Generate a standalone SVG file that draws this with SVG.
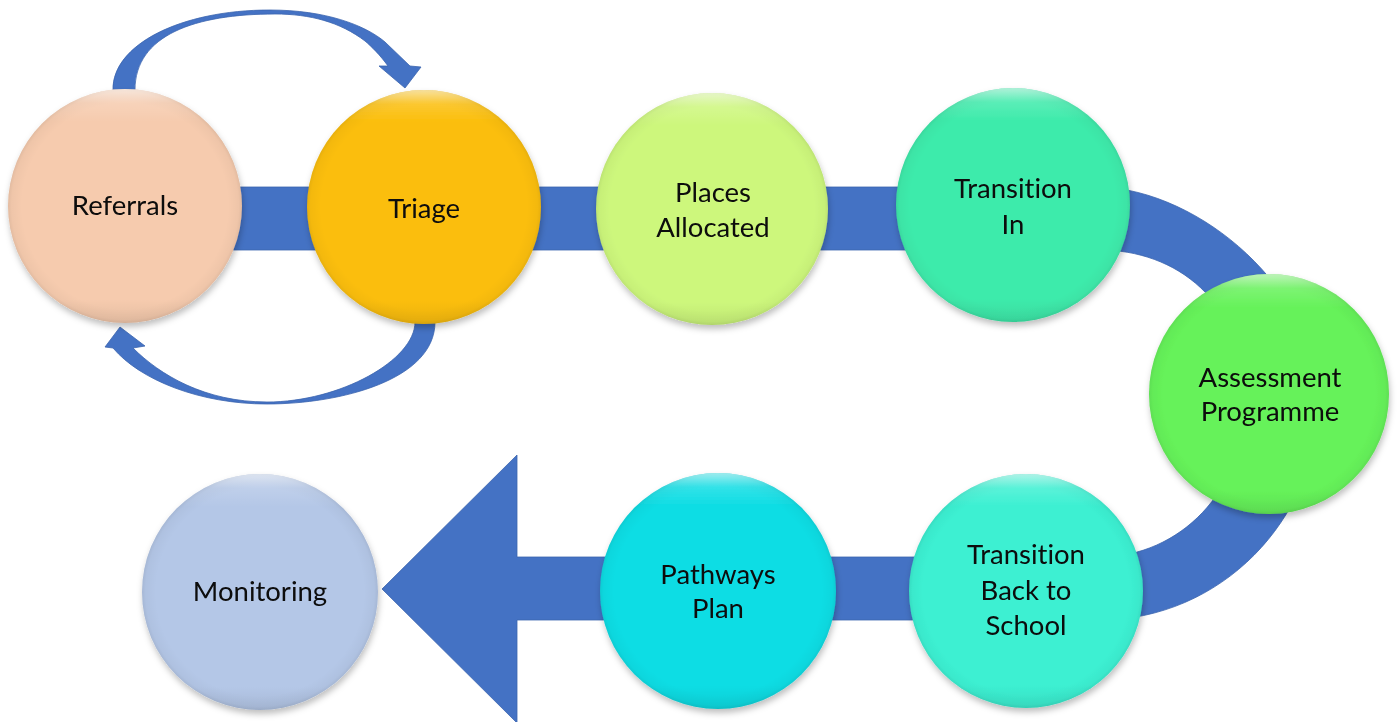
<svg xmlns="http://www.w3.org/2000/svg" width="1397" height="722" viewBox="0 0 1397 722">
  <defs>
    <style>
      .blue { fill: #4472C4; stroke: #3B64AE; stroke-width: 0.8; }
      .node { filter: url(#shadow); }
      .label { font-family: Lato, "Liberation Sans", sans-serif; font-size: 27.5px; fill: #0a0a0a; text-anchor: middle; font-variant-ligatures: none; font-feature-settings: "liga" 0; }
    </style>
    <filter id="shadow" x="-20%" y="-20%" width="140%" height="145%">
      <feDropShadow dx="1" dy="4" stdDeviation="3" flood-color="#000" flood-opacity="0.25"/>
    </filter>
    <radialGradient id="rim" cx="0.5" cy="0.5" r="0.5">
      <stop offset="0.88" stop-color="#000" stop-opacity="0"/>
      <stop offset="0.97" stop-color="#000" stop-opacity="0.03"/>
      <stop offset="1" stop-color="#000" stop-opacity="0.08"/>
    </radialGradient>
    <linearGradient id="bevel" x1="0" y1="0" x2="0" y2="1">
      <stop offset="0" stop-color="#fff" stop-opacity="0.6"/>
      <stop offset="0.06" stop-color="#fff" stop-opacity="0.15"/>
      <stop offset="0.14" stop-color="#fff" stop-opacity="0"/>
      <stop offset="0.9" stop-color="#000" stop-opacity="0"/>
      <stop offset="1" stop-color="#000" stop-opacity="0.07"/>
    </linearGradient>
  </defs>
  <rect width="1397" height="722" fill="#fff"/>

  <g id="connectors">
    <path class="blue" d="M200,187 L1100,187 C1200,190 1318,290 1318,402 C1318,520 1220,620 1100,620 L517,620 L517,723 L382,589 L517,455 L517,557 L1100,557 C1180,557 1245,490 1245,402 C1245,300 1175,250 1100,250 L200,250 Z"/>
    <path class="blue" d="M113,90 C112,45 180,10 270,10 C325,10 365,25 385,42 L410,66 L421,67 L405,88 L379,66 L388,66 C380,55 372,47 365,41 C340,22 310,14 275,14 C195,14 135,35 135,90 Z"/>
    <path class="blue" d="M415,322 C415,360 340,402 267,402 C205,402 160,375 133,348 L145,346 L120,327 L105,347 L113,348 C140,380 200,404 267,404 C340,404 435,380 435,322 Z"/>
  </g>

  <g id="node-referrals" class="node">
    <circle cx="125" cy="206" r="117" fill="#F6CBAE"/>
    <circle cx="125" cy="206" r="117" fill="url(#rim)"/>
    <circle cx="125" cy="206" r="117" fill="url(#bevel)"/>
    <text class="label" x="125" y="215">Referrals</text>
  </g>
  <g id="node-triage" class="node">
    <circle cx="424" cy="207" r="117" fill="#FBBE0B"/>
    <circle cx="424" cy="207" r="117" fill="url(#rim)"/>
    <circle cx="424" cy="207" r="117" fill="url(#bevel)"/>
    <text class="label" x="424" y="218">Triage</text>
  </g>
  <g id="node-places" class="node">
    <circle cx="712" cy="209" r="116" fill="#CDF77C"/>
    <circle cx="712" cy="209" r="116" fill="url(#rim)"/>
    <circle cx="712" cy="209" r="116" fill="url(#bevel)"/>
    <text class="label" x="713" y="202">Places</text>
    <text class="label" x="713" y="237">Allocated</text>
  </g>
  <g id="node-transition-in" class="node">
    <circle cx="1013" cy="205" r="117" fill="#3EEBAB"/>
    <circle cx="1013" cy="205" r="117" fill="url(#rim)"/>
    <circle cx="1013" cy="205" r="117" fill="url(#bevel)"/>
    <text class="label" x="1013" y="198">Transition</text>
    <text class="label" x="1013" y="234">In</text>
  </g>
  <g id="node-assessment" class="node">
    <circle cx="1269" cy="394" r="120" fill="#66F25A"/>
    <circle cx="1269" cy="394" r="120" fill="url(#rim)"/>
    <circle cx="1269" cy="394" r="120" fill="url(#bevel)"/>
    <text class="label" x="1270" y="387">Assessment</text>
    <text class="label" x="1270" y="421">Programme</text>
  </g>
  <g id="node-transition-back" class="node">
    <circle cx="1026" cy="591" r="117" fill="#3CF0D2"/>
    <circle cx="1026" cy="591" r="117" fill="url(#rim)"/>
    <circle cx="1026" cy="591" r="117" fill="url(#bevel)"/>
    <text class="label" x="1026" y="564">Transition</text>
    <text class="label" x="1026" y="600">Back to</text>
    <text class="label" x="1026" y="635">School</text>
  </g>
  <g id="node-pathways" class="node">
    <circle cx="718" cy="591" r="118" fill="#0EDDE4"/>
    <circle cx="718" cy="591" r="118" fill="url(#rim)"/>
    <circle cx="718" cy="591" r="118" fill="url(#bevel)"/>
    <text class="label" x="718" y="584">Pathways</text>
    <text class="label" x="718" y="618">Plan</text>
  </g>
  <g id="node-monitoring" class="node">
    <circle cx="260" cy="592" r="118" fill="#B4C7E7"/>
    <circle cx="260" cy="592" r="118" fill="url(#rim)"/>
    <circle cx="260" cy="592" r="118" fill="url(#bevel)"/>
    <text class="label" x="260" y="601">Monitoring</text>
  </g>
</svg>
